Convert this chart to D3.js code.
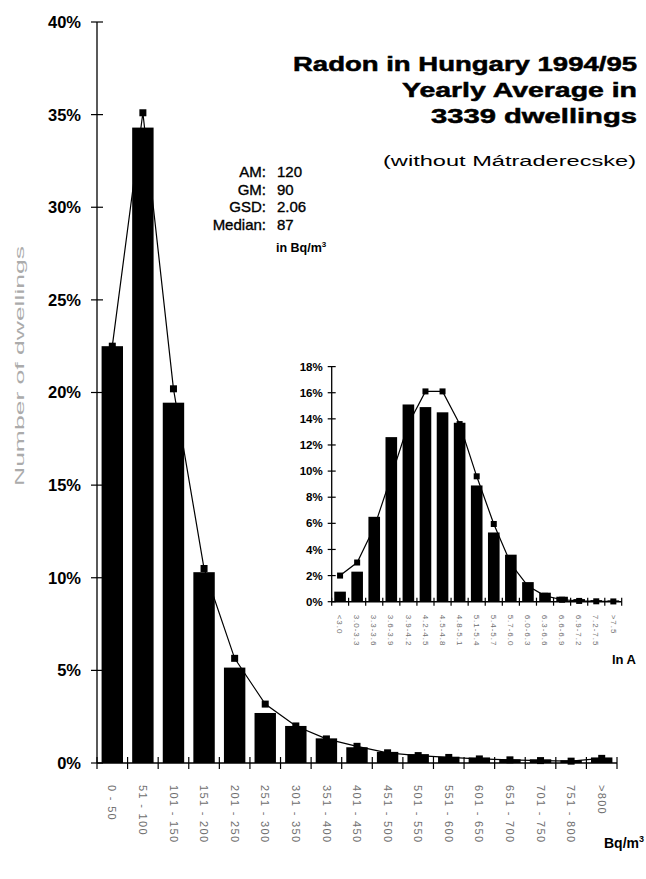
<!DOCTYPE html>
<html>
<head>
<meta charset="utf-8">
<script src="https://cdn.jsdelivr.net/npm/d3@7"></script>
<style>
  body { margin: 0; background: #fff; }
  svg { display: block; font-family: "Liberation Sans", Arial, sans-serif; }
</style>
</head>
<body>
<div class="chart"></div>
<script>
// main histogram, Bq/m3 classes
let classes = ["0 - 50", "51 - 100", "101 - 150", "151 - 200", "201 - 250", "251 - 300",
  "301 - 350", "351 - 400", "401 - 450", "451 - 500", "501 - 550", "551 - 600",
  "601 - 650", "651 - 700", "701 - 750", "751 - 800", ">800"];
let measured = [22.5, 34.3, 19.45, 10.3, 5.15, 2.7, 2.0, 1.33, 0.85, 0.6, 0.48, 0.34, 0.3, 0.2, 0.2, 0.15, 0.3];
let fitted = [22.5, 35.1, 20.2, 10.5, 5.65, 3.18, 2.0, 1.3, 0.9, 0.55, 0.4, 0.3, 0.22, 0.17, 0.13, 0.1, 0.25];
let yTicks = [0, 5, 10, 15, 20, 25, 30, 35, 40];

// inset, ln A classes
let lnClasses = ["<3.0", "3.0-3.3", "3.3-3.6", "3.6-3.9", "3.9-4.2", "4.2-4.5", "4.5-4.8",
  "4.8-5.1", "5.1-5.4", "5.4-5.7", "5.7-6.0", "6.0-6.3", "6.3-6.6", "6.6-6.9",
  "6.9-7.2", "7.2-7.5", ">7.5"];
let lnMeasured = [0.77, 2.3, 6.5, 12.6, 15.1, 14.9, 14.5, 13.7, 8.9, 5.3, 3.6, 1.5, 0.69, 0.38, 0.2, 0.12, 0.1];
let lnFitted = [2.0, 3.0, 5.7, 9.6, 13.6, 16.1, 16.1, 13.6, 9.6, 5.95, 2.9, 1.2, 0.45, 0.15, 0.06, 0.03, 0.02];
let lnTicks = [0, 2, 4, 6, 8, 10, 12, 14, 16, 18];

let titleLines = ["Radon in Hungary 1994/95", "Yearly Average in", "3339 dwellings"];
let statLabels = ["AM:", "GM:", "GSD:", "Median:"];
let statValues = ["120", "90", "2.06", "87"];

let width = 646, height = 879;
let svg = d3.select(".chart").append("svg")
  .attr("width", width)
  .attr("height", height);

let x_main = d3.scaleBand().domain(classes).range([97, 617]).paddingInner(0.3).paddingOuter(0.15);
let y_main = d3.scaleLinear().domain([0, 40]).range([763, 22]);

function drawHisto(g, x, y, bins, bars, line, ticks, tickLen, markSize, labelFont, labelSize, tickGap, labelTop) {
  let x0 = x.range()[0], x1 = x.range()[1];
  let base = y(0);
  let step = x.step();

  g.selectAll(".bar")
    .data(bars).enter()
    .append("rect")
    .attr("x", (d, i) => x(bins[i]))
    .attr("y", d => y(d))
    .attr("width", x.bandwidth())
    .attr("height", d => base - y(d))
    .attr("fill", "#000");

  g.append("path")
    .datum(line)
    .attr("fill", "none")
    .attr("stroke", "#000")
    .attr("stroke-width", 1.2)
    .attr("d", d3.line()
      .x((d, i) => x(bins[i]) + x.bandwidth() / 2)
      .y(d => y(d)));

  g.selectAll(".mark")
    .data(line).enter()
    .append("rect")
    .attr("x", (d, i) => x(bins[i]) + x.bandwidth() / 2 - markSize / 2)
    .attr("y", d => y(d) - markSize / 2)
    .attr("width", markSize)
    .attr("height", markSize)
    .attr("fill", "#000");

  // axes, drawn by hand to get the crossing ticks
  g.append("line").attr("x1", x0).attr("x2", x0).attr("y1", y(ticks[ticks.length - 1])).attr("y2", base)
    .attr("stroke", "#000").attr("stroke-width", 1.3);
  g.append("line").attr("x1", x0).attr("x2", x1).attr("y1", base).attr("y2", base)
    .attr("stroke", "#000").attr("stroke-width", 1.5);

  g.selectAll(".ytick")
    .data(ticks).enter()
    .append("line")
    .attr("x1", x0 - tickLen).attr("x2", x0 + tickLen)
    .attr("y1", d => y(d)).attr("y2", d => y(d))
    .attr("stroke", "#000").attr("stroke-width", 1.2);

  g.selectAll(".ylab")
    .data(ticks).enter()
    .append("text")
    .attr("x", x0 - tickGap)
    .attr("y", d => y(d))
    .attr("dy", "0.36em")
    .attr("text-anchor", "end")
    .attr("font-size", labelSize)
    .attr("font-weight", "bold")
    .text(d => d + "%");

  let bounds = d3.range(bins.length + 1).map(i => x(bins[0]) - (step - x.bandwidth()) / 2 + i * step);
  bounds[0] = x0;
  bounds[bins.length] = x1;
  g.selectAll(".xtick")
    .data(bounds).enter()
    .append("line")
    .attr("x1", d => d).attr("x2", d => d)
    .attr("y1", base - tickLen).attr("y2", base + tickLen)
    .attr("stroke", "#000").attr("stroke-width", 1.2);

  g.selectAll(".xlab")
    .data(bins).enter()
    .append("text")
    .attr("transform", d => "translate(" + (x(d) + x.bandwidth() / 2) + "," + (base + labelTop) + ") rotate(90)")
    .attr("dy", "0.35em")
    .attr("font-size", labelFont)
    .attr("letter-spacing", labelFont * 0.12)
    .attr("fill", "#6e6e6e")
    .text(d => d);
}

let g_main = svg.append("g");
drawHisto(g_main, x_main, y_main, classes, measured, fitted, yTicks, 6, 7, 11, 16.5, 16, 22);

let x_inset = d3.scaleBand().domain(lnClasses).range([331.7, 621.7]).paddingInner(0.32).paddingOuter(0.15);
let y_inset = d3.scaleLinear().domain([0, 18]).range([601.7, 366.6]);
let g_inset = svg.append("g");
drawHisto(g_inset, x_inset, y_inset, lnClasses, lnMeasured, lnFitted, lnTicks, 4, 6, 8, 11.5, 9, 13);

// titles
svg.selectAll(".title")
  .data(titleLines).enter()
  .append("text")
  .attr("x", 637)
  .attr("y", (d, i) => 71 + i * 26)
  .attr("text-anchor", "end")
  .attr("font-size", 20)
  .attr("font-weight", "bold")
  .attr("stroke", "#000").attr("stroke-width", 0.5)
  .attr("textLength", (d, i) => [344, 235, 206][i])
  .attr("lengthAdjust", "spacingAndGlyphs")
  .text(d => d);

svg.append("text")
  .attr("x", 636).attr("y", 166)
  .attr("text-anchor", "end")
  .attr("font-size", 14)
  .attr("textLength", 253)
  .attr("lengthAdjust", "spacingAndGlyphs")
  .text("(without Mátraderecske)");

svg.selectAll(".slab")
  .data(statLabels).enter()
  .append("text")
  .attr("x", 266)
  .attr("y", (d, i) => 177 + i * 17.5)
  .attr("text-anchor", "end")
  .attr("font-size", 15)
  .attr("stroke", "#000").attr("stroke-width", 0.35)
  .text(d => d);

svg.selectAll(".sval")
  .data(statValues).enter()
  .append("text")
  .attr("x", 277)
  .attr("y", (d, i) => 177 + i * 17.5)
  .attr("font-size", 15)
  .attr("stroke", "#000").attr("stroke-width", 0.35)
  .text(d => d);

let unit = svg.append("text")
  .attr("x", 276).attr("y", 252)
  .attr("font-size", 12.5)
  .attr("font-weight", "bold");
unit.append("tspan").text("in Bq/m");
unit.append("tspan").attr("font-size", 8).attr("dy", -5).text("3");

// y axis title, faint in the scan
svg.append("text")
  .attr("transform", "translate(24,366) rotate(-90)")
  .attr("text-anchor", "middle")
  .attr("font-size", 13)
  .attr("textLength", 240)
  .attr("lengthAdjust", "spacingAndGlyphs")
  .attr("fill", "#ababab")
  .text("Number of dwellings");

let bq = svg.append("text")
  .attr("x", 644).attr("y", 848)
  .attr("text-anchor", "end")
  .attr("font-size", 14)
  .attr("font-weight", "bold");
bq.append("tspan").text("Bq/m");
bq.append("tspan").attr("font-size", 9).attr("dy", -6).text("3");

svg.append("text")
  .attr("x", 636).attr("y", 664)
  .attr("text-anchor", "end")
  .attr("font-size", 13)
  .attr("font-weight", "bold")
  .text("ln A");
</script>
</body>
</html>
